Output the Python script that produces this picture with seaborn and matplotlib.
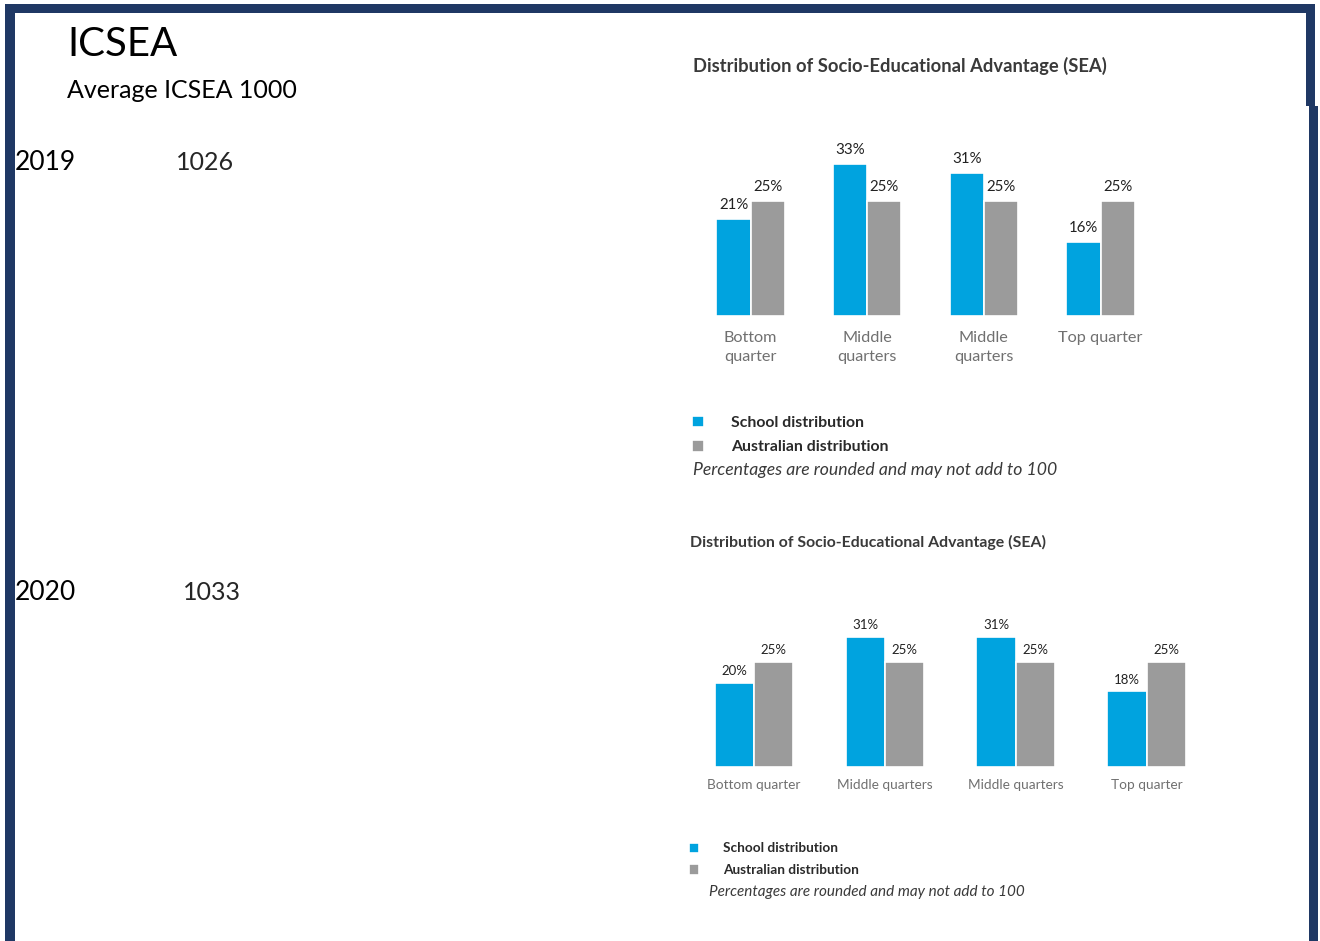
import textwrap

import matplotlib
matplotlib.use("Agg")
import matplotlib.pyplot as plt
from matplotlib.patches import Rectangle
import pandas as pd
import seaborn as sns

# ---- data -----------------------------------------------------------------
quarters = ["Bottom quarter", "Middle quarters", "Middle quarters", "Top quarter"]
series_names = ["School distribution", "Australian distribution"]
school_2019 = [21, 33, 31, 16]
australia_2019 = [25, 25, 25, 25]
school_2020 = [20, 31, 31, 18]
australia_2020 = [25, 25, 25, 25]
years = ["2019", "2020"]
icsea_values = ["1026", "1033"]
average_icsea = 1000

chart_title = "Distribution of Socio-Educational Advantage (SEA)"
note = "Percentages are rounded and may not add to 100"

# ---- style ----------------------------------------------------------------
sns.set_theme(style="white")
plt.rcParams["font.family"] = ["Lato", "DejaVu Sans"]

BLUE = "#00A3DF"
GREY = "#9B9B9B"
NAVY = "#1F3864"
TITLE_C = "#3A3A3A"
TICK_C = "#707070"

W, H = 1320, 941
fig = plt.figure(figsize=(W / 100, H / 100), dpi=100)
fig.patch.set_facecolor("white")


def fx(x):
    return x / W


def fy(y):
    return 1 - y / H


def add_ax(left, top, width, height):
    return fig.add_axes([fx(left), fy(top + height), width / W, height / H])


def make_frame(school, australia):
    slots = [f"q{i}" for i in range(len(quarters))]
    return pd.DataFrame({
        "slot": slots * 2,
        "pct": list(school) + list(australia),
        "series": [series_names[0]] * len(slots) + [series_names[1]] * len(slots),
    })


def draw_chart(ax, school, australia, wrap, tick_size, label_size, label_pad,
               tick_pad, bar_width, linespacing=1.2):
    df = make_frame(school, australia)
    sns.barplot(data=df, x="slot", y="pct", hue="series",
                hue_order=series_names, palette=[BLUE, GREY], saturation=1,
                width=bar_width, edgecolor="white", linewidth=1.2,
                ax=ax, errorbar=None)
    ax.set_ylim(0, 40)
    ax.set_xlim(-0.5, len(quarters) - 0.5)
    for cont, vals in zip(ax.containers, [school, australia]):
        ax.bar_label(cont, labels=[f"{v}%" for v in vals], padding=label_pad,
                     fontsize=label_size, color="#222222")
    labels = [textwrap.fill(q, 11) if wrap else q for q in quarters]
    ax.set_xticks(range(len(quarters)))
    ax.set_xticklabels(labels, fontsize=tick_size, color=TICK_C,
                       linespacing=linespacing)
    ax.tick_params(axis="x", length=0, pad=tick_pad)
    ax.set_yticks([])
    ax.set_xlabel("")
    ax.set_ylabel("")
    ax.set_facecolor("none")
    for s in ax.spines.values():
        s.set_visible(False)
    handles, lbls = ax.get_legend_handles_labels()
    ax.get_legend().remove()
    return handles, lbls


# ---- 2019 chart -------------------------------------------------------------
ax1 = add_ax(692.2, 316 - 40 * 4.6, 466.7, 40 * 4.6)
h1, l1 = draw_chart(ax1, school_2019, australia_2019, wrap=True,
                    tick_size=11.7, label_size=10.8, label_pad=5.2,
                    tick_pad=10.6, bar_width=0.585, linespacing=1.5)
fig.text(fx(693), fy(66), chart_title, fontsize=13.2, fontweight="bold",
         color=TITLE_C, va="center", ha="left")
leg1 = ax1.legend(h1, l1, loc="upper left",
                  bbox_to_anchor=(fx(692), fy(415.5)),
                  bbox_transform=fig.transFigure, frameon=False,
                  handlelength=0.76, handleheight=0.76, handletextpad=1.7,
                  labelspacing=0.64, borderpad=0, borderaxespad=0,
                  prop={"size": 11.4, "weight": "bold"})
for t in leg1.get_texts():
    t.set_color("#2A2A2A")
fig.text(fx(693), fy(470), note, fontsize=12.7, fontstyle="italic",
         color="#3A3A3A", va="center", ha="left")

# ---- 2020 chart -------------------------------------------------------------
ax2 = add_ax(688.5, 766.7 - 40 * 4.19, 523.6, 40 * 4.19)
h2, l2 = draw_chart(ax2, school_2020, australia_2020, wrap=False,
                    tick_size=9.8, label_size=9.5, label_pad=4,
                    tick_pad=9, bar_width=0.6)
fig.text(fx(690), fy(542), chart_title, fontsize=11.4, fontweight="bold",
         color=TITLE_C, va="center", ha="left")
leg2 = ax2.legend(h2, l2, loc="upper left",
                  bbox_to_anchor=(fx(688.5), fy(842.5)),
                  bbox_transform=fig.transFigure, frameon=False,
                  handlelength=0.8, handleheight=0.8, handletextpad=1.76,
                  labelspacing=0.72, borderpad=0, borderaxespad=0,
                  prop={"size": 9.8, "weight": "bold"})
for t in leg2.get_texts():
    t.set_color("#2A2A2A")
fig.text(fx(709), fy(892), note, fontsize=11, fontstyle="italic",
         color="#3A3A3A", va="center", ha="left")

# ---- left-hand summary text ---------------------------------------------------
fig.text(fx(67), fy(45), "ICSEA", fontsize=29, color="black",
         va="center", ha="left")
fig.text(fx(67), fy(90), f"Average ICSEA {average_icsea}", fontsize=18,
         color="black", va="center", ha="left")
for yr, val, y, xv in zip(years, icsea_values, [163, 593], [176, 183]):
    fig.text(fx(15), fy(y), yr, fontsize=19, color="black",
             va="center", ha="left")
    fig.text(fx(xv), fy(y), val, fontsize=18, color="#262626",
             va="center", ha="left")

# ---- page frame -------------------------------------------------------------
for (x0, y0, x1, y1) in [(5, 4, 1315, 13), (5, 4, 15, 941),
                         (1306, 4, 1315, 106), (1309, 106, 1318, 941)]:
    fig.add_artist(Rectangle((fx(x0), fy(y1)), (x1 - x0) / W, (y1 - y0) / H,
                             transform=fig.transFigure, facecolor=NAVY,
                             edgecolor="none", zorder=10))

fig.savefig("out.png", dpi=100, facecolor="white")
